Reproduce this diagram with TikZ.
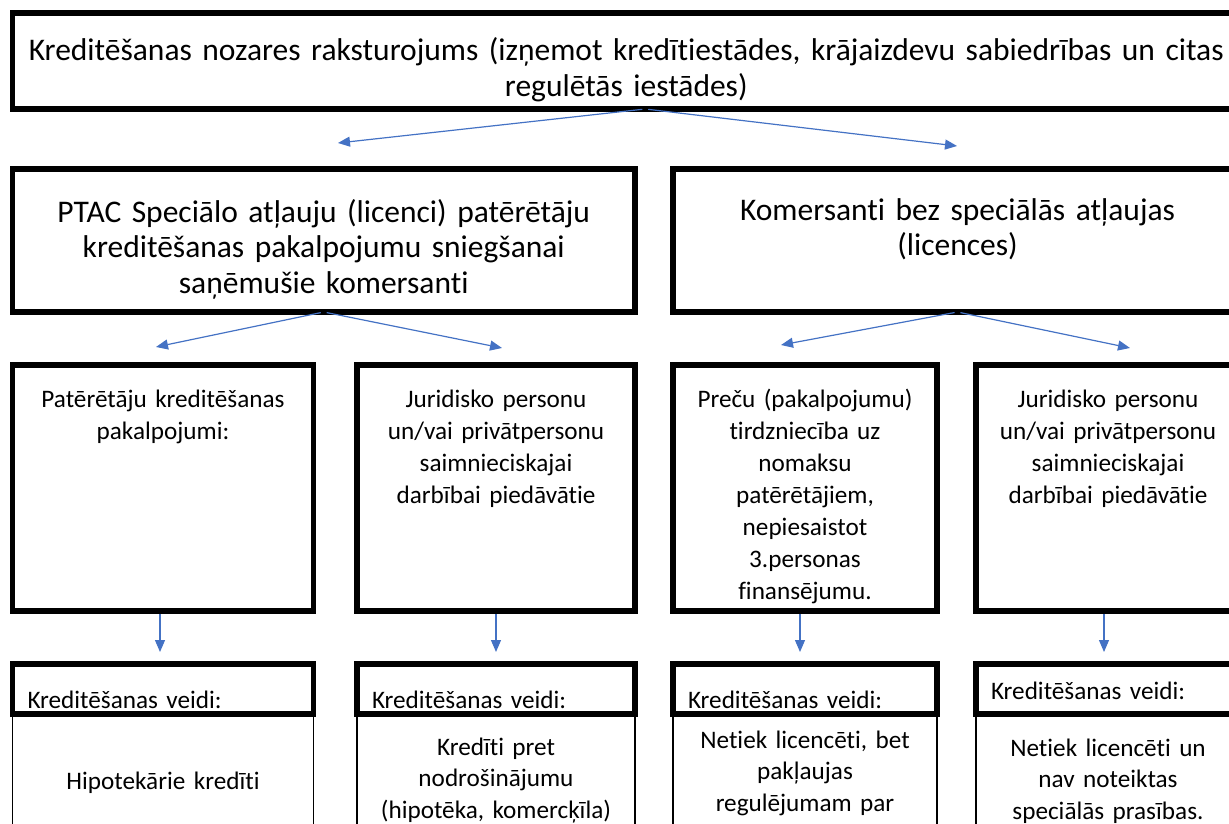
\documentclass[tikz,border=0pt]{standalone}
\usepackage{xcolor}
\definecolor{bultazila}{RGB}{68, 114, 196}
\usepackage{fontspec}
\setmainfont{Carlito}[Ligatures=NoCommon]
\usepackage{tikz}
\usetikzlibrary{arrows.meta, positioning}

\begin{document}
\begin{tikzpicture}[
    x=1pt, y=-1pt,
    every node/.style={align=center, inner sep=0pt, outer sep=0pt},
    lielakaste/.style={rectangle, draw, line width=5.5pt, font=\fontsize{31.5pt}{35.5pt}\selectfont},
    kaste/.style={rectangle, draw, line width=5.5pt, font=\fontsize{25.2pt}{32pt}\selectfont},
    virsraksts/.style={kaste, align=left, inner xsep=15pt},
    saturs/.style={rectangle, draw, line width=1.3pt, font=\fontsize{25.2pt}{31.5pt}\selectfont},
    arrow/.style={-{Triangle[length=12pt, width=10pt]}, draw=bultazila, line width=1.2pt, shorten <=3pt}
]
\useasboundingbox (0,0) rectangle (1229,824);

% Nodes
\node[lielakaste, text width=1227.5pt, text height=48pt, text depth=48pt, anchor=north west] (nozare) at (12.5,13)
    {Kreditēšanas nozares raksturojums (izņemot kredītiestādes, krājaizdevu sabiedrības un citas\\regulētās iestādes)};
\node[lielakaste, text width=622.5pt, text height=53pt, text depth=90pt, below=60pt of nozare.south west, anchor=north west] (licencetie)
    {PTAC Speciālo atļauju (licenci) patērētāju\\kreditēšanas pakalpojumu sniegšanai\\saņēmušie komersanti};
\node[lielakaste, text width=569pt, text height=51pt, text depth=92pt, right=38pt of licencetie.north east, anchor=north west] (bezlicences)
    {Komersanti bez speciālās atļaujas\\(licences)};

\node[kaste, text width=301pt, text height=42pt, text depth=204pt, below=53pt of licencetie.south west, anchor=north west] (pateretaji)
    {Patērētāju kreditēšanas\\pakalpojumi:};
\node[kaste, text width=278pt, text height=42pt, text depth=204pt, right=43.5pt of pateretaji.north east, anchor=north west] (juridiskie)
    {Juridisko personu\\un/vai privātpersonu\\saimnieciskajai\\darbībai piedāvātie};
\node[kaste, text width=264pt, text height=42pt, text depth=204pt, below=53pt of bezlicences.south west, anchor=north west] (preces)
    {Preču (pakalpojumu)\\tirdzniecība uz\\nomaksu\\patērētājiem,\\nepiesaistot\\3.personas\\finansējumu.};
\node[kaste, text width=264pt, text height=42pt, text depth=204pt, right=39pt of preces.north east, anchor=north west] (juridiskie2)
    {Juridisko personu\\un/vai privātpersonu\\saimnieciskajai\\darbībai piedāvātie};

\node[virsraksts, text width=271pt, text height=44pt, text depth=6pt, below=53pt of pateretaji.south west, anchor=north west] (veidi1) {Kreditēšanas veidi:};
\node[virsraksts, text width=248pt, text height=44pt, text depth=6pt, below=53pt of juridiskie.south west, anchor=north west] (veidi2) {Kreditēšanas veidi:};
\node[virsraksts, text width=234pt, text height=44pt, text depth=6pt, below=53pt of preces.south west, anchor=north west] (veidi3) {Kreditēšanas veidi:};
\node[virsraksts, text width=234pt, text height=35pt, text depth=15pt, below=53pt of juridiskie2.south west, anchor=north west] (veidi4) {Kreditēšanas veidi:};

\node[saturs, text width=301pt, text height=75pt, text depth=125pt, below=0pt of veidi1.south west, anchor=north west] (saturs1)
    {Hipotekārie kredīti};
\node[saturs, text width=278pt, text height=41pt, text depth=159pt, below=0pt of veidi2.south west, anchor=north west] (saturs2)
    {Kredīti pret\\nodrošinājumu\\(hipotēka, komercķīla)};
\node[saturs, text width=264pt, text height=34pt, text depth=166pt, below=0pt of veidi3.south west, anchor=north west] (saturs3)
    {Netiek licencēti, bet\\pakļaujas\\regulējumam par};
\node[saturs, text width=264pt, text height=42pt, text depth=158pt, below=0pt of veidi4.south west, anchor=north west] (saturs4)
    {Netiek licencēti un\\nav noteiktas\\speciālās prasības.};

% Arrow ends
\coordinate (gals1) at (338,143);
\coordinate (gals2) at (957,146);
\coordinate (gals3) at (156,347);
\coordinate (gals4) at (502,348);
\coordinate (gals5) at (781,345);
\coordinate (gals6) at (1130,348);

% Connections
\draw[arrow] ([xshift=19pt]nozare.south) -- (gals1);
\draw[arrow] ([xshift=19pt]nozare.south) -- (gals2);
\draw[arrow] (licencetie.south) -- (gals3);
\draw[arrow] (licencetie.south) -- (gals4);
\draw[arrow] (bezlicences.south) -- (gals5);
\draw[arrow] (bezlicences.south) -- (gals6);
\draw[arrow, shorten >=12pt] ([xshift=-3pt]pateretaji.south) -- ([xshift=-3pt]veidi1.north);
\draw[arrow, shorten >=12pt] (juridiskie.south) -- (veidi2.north);
\draw[arrow, shorten >=12pt] ([xshift=-5pt]preces.south) -- ([xshift=-5pt]veidi3.north);
\draw[arrow, shorten >=12pt] ([xshift=-4pt]juridiskie2.south) -- ([xshift=-4pt]veidi4.north);

\end{tikzpicture}
\end{document}
